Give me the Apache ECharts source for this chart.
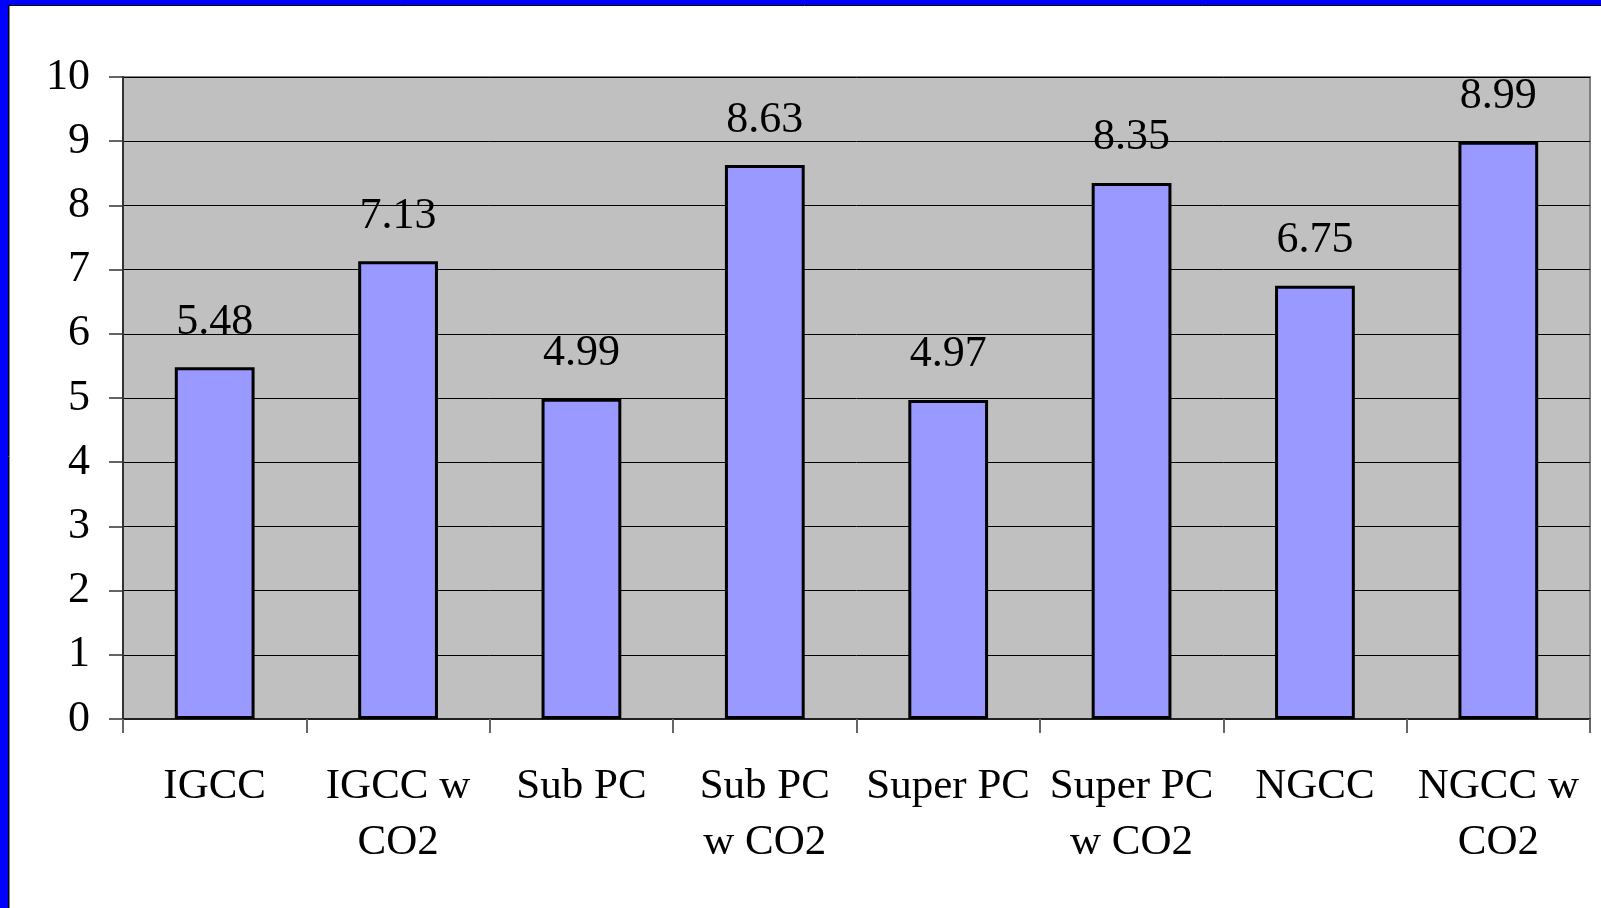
<!DOCTYPE html>
<html>
<head>
<meta charset="utf-8">
<script src="https://cdn.jsdelivr.net/npm/echarts@6/dist/echarts.min.js"></script>
<style>
  html, body { margin: 0; padding: 0; background: #fff; }
  #chart { width: 1601px; height: 908px; }
</style>
</head>
<body>
<div id="chart"></div>
<script>
// categories and values
const categories = ['IGCC', 'IGCC w\nCO2', 'Sub PC', 'Sub PC\nw CO2', 'Super PC', 'Super PC\nw CO2', 'NGCC', 'NGCC w\nCO2']
const values = [5.48, 7.13, 4.99, 8.63, 4.97, 8.35, 6.75, 8.99]
const yTicks = [0, 1, 2, 3, 4, 5, 6, 7, 8, 9, 10]

const font = '"Liberation Serif", "DejaVu Serif", serif'

const chart = echarts.init(document.getElementById('chart'))

chart.setOption({
  animation: false,
  backgroundColor: '#fff',
  graphic: [
    // blue frame (top and left edges only, picture is cropped)
    { type: 'rect', shape: { x: 0, y: 0, width: 1601, height: 5 }, style: { fill: '#0000FF' } },
    { type: 'rect', shape: { x: 0, y: 0, width: 8, height: 908 }, style: { fill: '#0000FF' } },
    { type: 'line', shape: { x1: 8, y1: 5.5, x2: 1601, y2: 5.5 }, style: { stroke: '#000', lineWidth: 1 } },
    { type: 'line', shape: { x1: 8.5, y1: 5, x2: 8.5, y2: 908 }, style: { stroke: '#000', lineWidth: 1 } },
    { type: 'line', shape: { x1: 9.5, y1: 6, x2: 9.5, y2: 908 }, style: { stroke: '#808080', lineWidth: 1 } }
  ],
  grid: {
    left: 123,
    top: 77,
    right: 11,
    bottom: 189,
    show: true,
    backgroundColor: '#C0C0C0',
    borderColor: '#808080',
    borderWidth: 2
  },
  xAxis: {
    type: 'category',
    data: categories,
    axisLine: { lineStyle: { color: '#222', width: 2 } },
    axisTick: { show: true, length: 14, lineStyle: { color: '#666', width: 2 } },
    axisLabel: {
      color: '#000',
      fontFamily: font,
      fontSize: 43,
      lineHeight: 56,
      margin: 40,
      interval: 0
    }
  },
  yAxis: {
    type: 'value',
    min: 0,
    max: 10,
    interval: 1,
    axisLine: { show: true, lineStyle: { color: '#333', width: 2 } },
    axisTick: { show: true, length: 14, lineStyle: { color: '#333', width: 1.5 } },
    axisLabel: {
      color: '#000',
      fontFamily: font,
      fontSize: 44,
      margin: 33,
      formatter: v => yTicks.includes(v) ? String(v) : ''
    },
    splitLine: { lineStyle: { color: '#000', width: 1 } }
  },
  series: [{
    type: 'bar',
    data: values,
    barWidth: '43.5%',
    itemStyle: {
      color: '#9999FF',
      borderColor: '#000',
      borderWidth: 3
    },
    label: {
      show: true,
      position: 'top',
      distance: 23,
      color: '#000',
      fontFamily: font,
      fontSize: 44,
      formatter: p => p.value.toFixed(2)
    }
  }]
})
</script>
</body>
</html>
